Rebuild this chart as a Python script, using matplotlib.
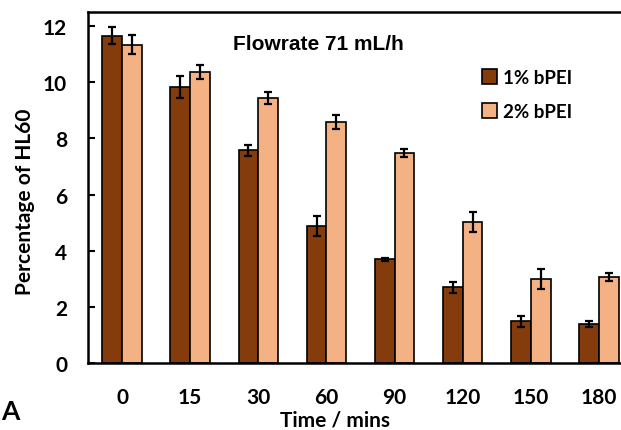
import matplotlib
matplotlib.use('Agg')
import matplotlib.pyplot as plt
import numpy as np

times = ['0', '15', '30', '60', '90', '120', '150', '180']
pei1 = [11.65, 9.82, 7.58, 4.89, 3.70, 2.69, 1.48, 1.39]
pei1_err = [0.30, 0.40, 0.20, 0.35, 0.05, 0.20, 0.20, 0.10]
pei2 = [11.34, 10.38, 9.44, 8.59, 7.47, 5.03, 2.99, 3.07]
pei2_err = [0.35, 0.25, 0.20, 0.25, 0.15, 0.35, 0.35, 0.15]

plt.rcParams['font.family'] = ['Lato', 'DejaVu Sans']
plt.rcParams['font.weight'] = 'bold'

fig = plt.figure(figsize=(6.21, 4.31), dpi=100)
# axes run past the right edge, as in the cropped original
ax = fig.add_axes([88/621, (431-364)/431, 545/621, (364-13)/431])

x = np.arange(len(times))
w = 0.29
ek = dict(ecolor='black', elinewidth=1.6, capsize=3, capthick=1.6)
ax.bar(x - w/2, pei1, w, yerr=pei1_err, color='#843C0C', edgecolor='black',
       linewidth=1.2, label='1% bPEI', error_kw=ek)
ax.bar(x + w/2, pei2, w, yerr=pei2_err, color='#F4B183', edgecolor='black',
       linewidth=1.2, label='2% bPEI', error_kw=ek)

ax.set_xlim(-0.5, 7.5)
ax.set_ylim(0, 12.5)
ax.set_yticks(range(0, 13, 2))
ax.set_xticks(x)
ax.set_xticklabels(times)
ax.tick_params(axis='x', length=0, pad=17, labelsize=15)
ax.tick_params(axis='y', length=5, width=1.5, direction='in', labelsize=15, pad=15)
for s in ax.spines.values():
    s.set_linewidth(1.8)
ax.spines['right'].set_visible(False)

ax.set_xlabel('Time / mins', fontsize=15, fontweight='bold')
ax.xaxis.set_label_coords(335/621, 1 - 411/431, transform=fig.transFigure)
ax.set_ylabel('Percentage of HL60', fontsize=15, fontweight='bold', va='center')
ax.yaxis.set_label_coords(25/621, 1 - 202/431, transform=fig.transFigure)

fig.text(233/621, 1 - 45/431, 'Flowrate 71 mL/h', family='Liberation Sans',
         fontsize=15, fontweight='bold', va='center')
ax.legend(loc='upper left', bbox_to_anchor=(482/621, 1 - 70/431),
          bbox_transform=fig.transFigure, frameon=False, fontsize=13.5,
          borderpad=0, borderaxespad=0,
          handlelength=0.8, handleheight=0.85, handletextpad=0.3, labelspacing=0.9)
fig.text(1/621, 1 - 412/431, 'A', fontsize=19, fontweight='bold', va='center')

fig.savefig('out.png', dpi=100)
